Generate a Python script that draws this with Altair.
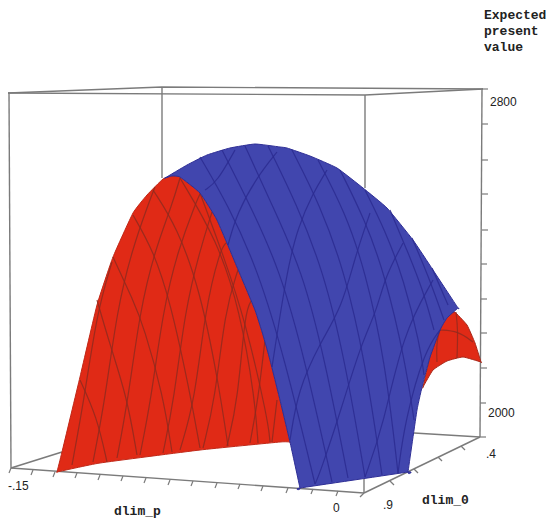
import altair as alt
import pandas as pd

# Outlines (x, y in picture units); repeated points mark sharp corners
red_left = [(57,472),(57,472),(62,452),(80,377),(97,305),(113,257),(133,213),(147,195),(163,179),(172,176),(180,177),(200,193),(217,220),(237,267),(255,310),(263,335),(270,360),(280,400),(290,442),(290,442),(280,442),(200,450),(100,463),(57,472)]
blue_main = [(165,178),(165,178),(187,165),(207,155),(230,148),(255,144),(280,147),(287,148),(310,156),(337,168),(363,188),(387,208),(413,240),(433,270),(458,308),(458,308),(447,318),(440,330),(430,357),(423,383),(417,410),(408,472),(408,472),(300,488),(300,488),(290,442),(280,400),(270,360),(263,335),(255,310),(237,267),(217,220),(200,193),(180,177),(172,176),(165,178)]
red_right = [(455,312),(467,325),(475,343),(481,362),(481,362),(463,357),(447,361),(433,370),(423,387),(423,387),(430,357),(440,330),(447,313),(455,312)]

red_grid = [
    [(72,465),(84,400),(97,312),(112,262)],
    [(93,462),(105,400),(117,310),(132,250),(148,205),(155,187)],
    [(117,458),(128,400),(140,310),(155,250),(172,205),(180,178)],
    [(140,455),(151,400),(163,310),(178,250),(195,205),(200,194)],
    [(163,453),(174,400),(185,310),(200,250),(212,212)],
    [(180,450),(195,400),(205,310),(220,250),(226,243)],
    [(203,448),(215,400),(225,310),(238,270)],
    [(227,446),(238,400),(245,310),(252,300)],
    [(250,443),(258,400),(265,340)],
    [(272,442),(277,400)],
    [(80,380),(97,417),(107,462)],
    [(97,300),(110,345),(127,397),(137,455)],
    [(113,257),(133,300),(144,327),(163,395),(172,452)],
    [(133,215),(153,250),(170,300),(190,393),(200,448)],
    [(153,190),(177,227),(200,290),(218,380),(228,446)],
    [(180,178),(217,240),(240,310),(255,400),(258,443)],
    [(200,193),(225,260),(245,320),(268,420),(270,442)],
]
blue_grid = [
    [(200,157),(228,205),(258,270),(285,360),(315,484)],
    [(222,150),(250,205),(280,270),(305,360),(332,482)],
    [(245,146),(272,205),(302,270),(325,360),(348,478)],
    [(268,146),(297,205),(323,270),(345,360),(365,477)],
    [(292,150),(320,205),(344,270),(365,360),(382,475)],
    [(318,160),(345,212),(365,270),(385,360),(398,473)],
    [(340,170),(365,220),(385,275),(405,360),(414,420)],
    [(365,190),(385,230),(404,280),(420,345),(424,375)],
    [(390,210),(407,250),(423,290),(434,330)],
    [(412,238),(428,275),(444,320)],
    [(432,268),(448,305)],
    [(235,150),(217,182),(205,190)],
    [(277,152),(257,177),(237,213),(228,245)],
    [(327,170),(313,193),(298,227),(287,270),(272,367)],
    [(370,213),(355,257),(342,307),(320,343),(298,390),(290,440)],
    [(403,243),(385,277),(377,310),(360,347),(342,407),(320,473),(315,484)],
    [(433,280),(403,333),(383,427),(365,477)],
    [(440,330),(425,350),(405,420),(398,473)],
]
right_grid = [
    [(440,330),(458,331),(473,342)],
    [(437,362),(436,337),(447,313)],
    [(457,358),(458,330),(456,312)],
]

box_lines = [
    [(8,93),(162,87),(483,89)],
    [(8,93),(365,95),(483,89)],
    [(9,93),(11,468)],
    [(162,87),(162,178)],
    [(365,95),(365,188)],
    [(482,89),(480,437)],
    [(11,468),(364,493)],
    [(364,493),(480,437)],
    [(11,468),(62,452)],
    [(414,433),(480,437)],
    [(364,477),(364,493)],
]
ticks = [
    [(482,89),(488,89)],[(482,124),(488,124)],[(482,160),(488,160)],[(482,194),(488,194)],[(482,230),(488,230)],
    [(481,264),(487,264)],[(481,299),(487,299)],[(481,333),(487,333)],[(481,368),(487,368)],[(480,403),(486,403)],[(480,437),(486,437)],
    [(33,470),(31,475)],[(55,472),(53,477)],[(77,473),(75,478)],[(100,475),(98,480)],[(123,476),(121,481)],[(146,478),(144,483)],
    [(170,480),(168,485)],[(193,481),(191,486)],[(217,483),(215,488)],[(240,484),(238,489)],[(263,486),(261,491)],[(288,488),(286,493)],
    [(313,489),(311,494)],[(338,491),(336,496)],[(364,493),(360,497)],[(11,468),(9,473)],
    [(390,481),(394,485)],[(414,469),(418,473)],[(438,457),(442,461)],[(461,446),(465,450)],
]
value_labels = [("-.15",8,486),("0",333,508),(".9",383,505),(".4",486,454),("2000",488,413),("2800",490,102)]
title_labels = [("Expected",484,15),("present",484,31),("value",484,47),("dlim_p",114,511),("dlim_0",422,500)]

W, H = 540, 512
xs = alt.Scale(domain=[8, 8 + W], range=[0, W], nice=False, zero=False)
ys = alt.Scale(domain=[8 + H, 8], range=[H, 0], nice=False, zero=False)
X = alt.X("x:Q", scale=xs, axis=None)
Y = alt.Y("y:Q", scale=ys, axis=None)


def table(groups):
    rows = []
    for g, pts in enumerate(groups):
        for i, (x, y) in enumerate(pts):
            rows.append({"g": g, "i": i, "x": x, "y": y})
    return pd.DataFrame(rows)


def lines(groups, color, width):
    return alt.Chart(table(groups)).mark_line(color=color, strokeWidth=width).encode(
        x=X, y=Y, detail="g:N", order="i:Q")


def curves(groups, color, width, opacity=1.0):
    return alt.Chart(table(groups)).mark_line(color=color, strokeWidth=width, opacity=opacity, interpolate="basis").encode(
        x=X, y=Y, detail="g:N", order="i:Q")


def poly(points, fill, stroke):
    return alt.Chart(table([points])).mark_line(fill=fill, stroke=stroke, strokeWidth=1.0, interpolate="cardinal", tension=0.6).encode(
        x=X, y=Y, order="i:Q")


def texts(rows, font, size, weight):
    df = pd.DataFrame(rows, columns=["t", "x", "y"])
    return alt.Chart(df).mark_text(align="left", baseline="middle", font=font, fontSize=size, fontWeight=weight, color="#222222").encode(
        x=X, y=Y, text="t:N")


chart = alt.layer(
    lines(box_lines, "#7b7b7b", 1.4),
    lines(ticks, "#7b7b7b", 1.2),
    poly(red_right, "#e02a16", "#a8281a"),
    curves(right_grid, "#8f2a1f", 1.2, 0.8),
    poly(red_left, "#e02a16", "#c02818"),
    curves(red_grid, "#8f2a1f", 1.2, 0.85),
    poly(blue_main, "#4146ae", "#2f2f96"),
    curves(blue_grid, "#2b2b90", 1.2, 0.85),
    texts(value_labels, "Liberation Sans", 12, "normal"),
    texts(title_labels, "Liberation Mono", 13, "bold"),
).properties(
    width=W, height=H, padding=0, autosize=alt.AutoSizeParams(type="none"),
).configure_view(stroke=None)

chart.save("out.html", embed_options={"renderer": "svg", "actions": False})
